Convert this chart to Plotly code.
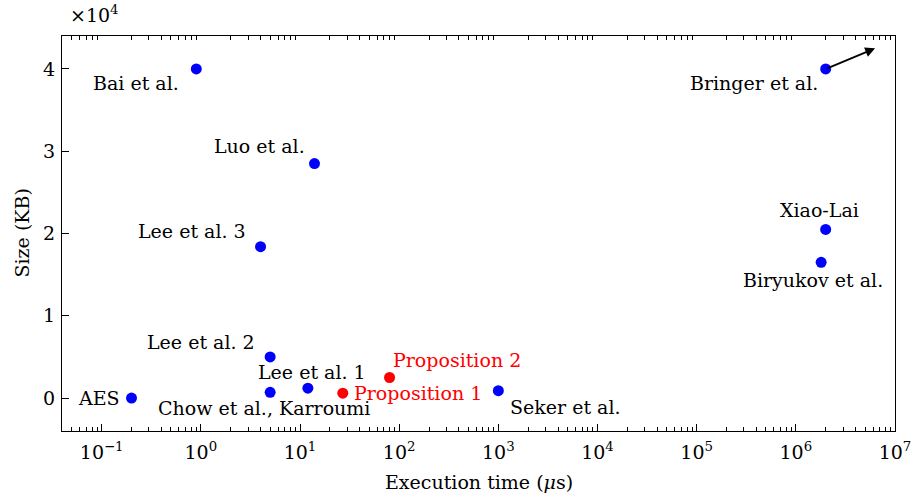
import plotly.graph_objects as go
import numpy as np

names = ["AES", "Bai et al.", "Luo et al.", "Lee et al. 3", "Lee et al. 2",
         "Chow et al., Karroumi", "Lee et al. 1", "Seker et al.",
         "Bringer et al.", "Xiao-Lai", "Biryukov et al."]
times = [0.2, 0.9, 14, 4, 5, 5, 12, 1000, 2.0e6, 2.0e6, 1.8e6]
sizes = [0, 40000, 28500, 18400, 5000, 700, 1200, 900, 40000, 20500, 16500]

prop_names = ["Proposition 1", "Proposition 2"]
prop_times = [27, 80]
prop_sizes = [600, 2500]

x_tick_vals = [0.1, 1, 10, 100, 1e3, 1e4, 1e5, 1e6, 1e7]
x_tick_text = ["10<sup>\u22121</sup>", "10<sup>0</sup>", "10<sup>1</sup>", "10<sup>2</sup>",
               "10<sup>3</sup>", "10<sup>4</sup>", "10<sup>5</sup>", "10<sup>6</sup>", "10<sup>7</sup>"]
x_minor_vals = [m * 10.0 ** d for d in range(-2, 7) for m in range(2, 10)]
y_tick_vals = [0, 10000, 20000, 30000, 40000]
y_tick_text = ["0", "1", "2", "3", "4"]

arrow_tip = (6.3e6, 42500)

# label placement: (xanchor, xshift, yshift)
blue_place = [("right", -10, 0), ("right", -15, -14), ("right", -8, 18), ("right", -13, 16),
              ("right", -13, 15), ("center", -6, -16), ("center", 4, 16), ("left", 10, -16),
              ("right", -6, -14), ("center", -6, 19), ("center", -8, -18)]
red_place = [("left", 9, 0), ("left", 1, 18)]

FONT = "DejaVu Serif"
FS = 19
BLACK = "black"
XR = [np.log10(0.0398), 7.0]

fig = go.Figure()
fig.add_trace(go.Scatter(x=times, y=sizes, mode="markers",
                         marker=dict(color="#0000ff", size=11), showlegend=False))
fig.add_trace(go.Scatter(x=prop_times, y=prop_sizes, mode="markers",
                         marker=dict(color="#ff0000", size=11), showlegend=False))

for n, xv, yv, (xa, xs, ys) in zip(names, times, sizes, blue_place):
    fig.add_annotation(x=np.log10(xv), y=yv, text=n, showarrow=False, xanchor=xa, yanchor="middle",
                       xshift=xs, yshift=ys, font=dict(family=FONT, size=FS, color=BLACK))
for n, xv, yv, (xa, xs, ys) in zip(prop_names, prop_times, prop_sizes, red_place):
    fig.add_annotation(x=np.log10(xv), y=yv, text=n, showarrow=False, xanchor=xa, yanchor="middle",
                       xshift=xs, yshift=ys, font=dict(family=FONT, size=FS, color="#ff0000"))

# arrow from Bringer et al.
fig.add_annotation(x=np.log10(arrow_tip[0]), y=arrow_tip[1], ax=np.log10(times[8]), ay=sizes[8],
                   xref="x", yref="y", axref="x", ayref="y", text="", showarrow=True,
                   arrowhead=2, arrowsize=1.1, arrowwidth=1.8, arrowcolor=BLACK, standoff=0, startstandoff=0)

# axis multiplier and titles
fig.add_annotation(x=0, y=1, xref="paper", yref="paper", xanchor="left", yanchor="middle",
                   xshift=6, yshift=22, text="\u00d710<sup>4</sup>", showarrow=False,
                   font=dict(family=FONT, size=FS, color=BLACK))
fig.add_annotation(x=0.5, y=0, xref="paper", yref="paper", xanchor="center", yanchor="middle",
                   yshift=-51, text="Execution time (<i>\u03bc</i>s)", showarrow=False,
                   font=dict(family=FONT, size=FS, color=BLACK))
fig.add_annotation(x=0, y=0.5, xref="paper", yref="paper", xanchor="center", yanchor="middle",
                   xshift=-41, textangle=-90, text="Size (KB)", showarrow=False,
                   font=dict(family=FONT, size=FS, color=BLACK))

axis_common = dict(showline=True, linecolor=BLACK, linewidth=1.3, mirror=True,
                   ticks="inside", ticklen=7, tickcolor=BLACK, tickwidth=1,
                   showgrid=False, zeroline=False, automargin=False,
                   tickfont=dict(family=FONT, size=FS, color=BLACK))

fig.update_xaxes(type="log", range=XR, tickvals=x_tick_vals, ticktext=x_tick_text, ticklabelstandoff=4,
                 **axis_common)
fig.update_yaxes(range=[-4000, 44000], tickvals=y_tick_vals, ticktext=y_tick_text, ticklabelstandoff=2,
                 **axis_common)

# minor log ticks via an overlaid axis
fig.update_layout(xaxis2=dict(type="log", range=XR, overlaying="x", side="bottom",
                              tickvals=x_minor_vals, showticklabels=False, ticks="inside", ticklen=4,
                              tickcolor=BLACK, tickwidth=1, mirror="ticks", showline=False,
                              showgrid=False, zeroline=False, automargin=False))
fig.add_trace(go.Scatter(x=[1], y=[0], xaxis="x2", mode="markers", marker=dict(opacity=0),
                         hoverinfo="skip", showlegend=False))

fig.update_layout(width=913, height=498, margin=dict(l=62, r=18, t=36, b=67),
                  plot_bgcolor="white", paper_bgcolor="white",
                  font=dict(family=FONT, size=FS, color=BLACK))

# remove the default page margin so the figure fills the window exactly
fig.write_html("out.html", config={"displayModeBar": False},
               post_script="document.body.style.margin='0';")
